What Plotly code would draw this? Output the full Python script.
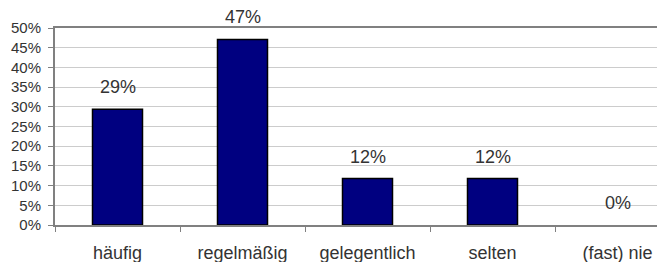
import plotly.graph_objects as go

categories = ["häufig", "regelmäßig", "gelegentlich", "selten", "(fast) nie"]
values = [0.294, 0.471, 0.118, 0.118, 0.0]
labels = ["29%", "47%", "12%", "12%", "0%"]
ytick_vals = [0, 0.05, 0.10, 0.15, 0.20, 0.25, 0.30, 0.35, 0.40, 0.45, 0.50]

FONT = "Liberation Sans, Arial, sans-serif"

fig = go.Figure()
fig.add_trace(go.Bar(
    x=categories, y=values, width=0.4,
    marker=dict(color="#000080",
                line=dict(color="#000000", width=[1.5 if v > 0 else 0 for v in values])),
    hoverinfo="skip",
))

for c, v, t in zip(categories, values, labels):
    fig.add_annotation(x=c, y=v, text=t, showarrow=False, yanchor="bottom",
                       yshift=10, font=dict(family=FONT, size=18, color="#333333"))

fig.update_layout(
    width=657, height=254,
    margin=dict(l=47, r=0, t=20, b=37),
    plot_bgcolor="white", paper_bgcolor="white",
    showlegend=False,
    font=dict(family=FONT, color="#333333"),
)
fig.update_xaxes(
    range=[-0.5, 4.38],
    showline=True, linecolor="#808080", linewidth=2, mirror=True,
    ticks="outside", tickson="boundaries", ticklen=5, tickcolor="#808080",
    tickfont=dict(size=18, color="#333333"), ticklabelstandoff=10,
    showgrid=False,
)
fig.update_yaxes(
    range=[0, 0.5], tickvals=ytick_vals, tickformat=".0%",
    showline=True, linecolor="#808080", linewidth=2,
    ticks="outside", ticklen=5, tickcolor="#808080",
    tickfont=dict(size=15, color="#333333"), ticklabelstandoff=4,
    showgrid=True, gridcolor="#cccccc", gridwidth=1,
    zeroline=False,
)

fig.write_html("out.html")
